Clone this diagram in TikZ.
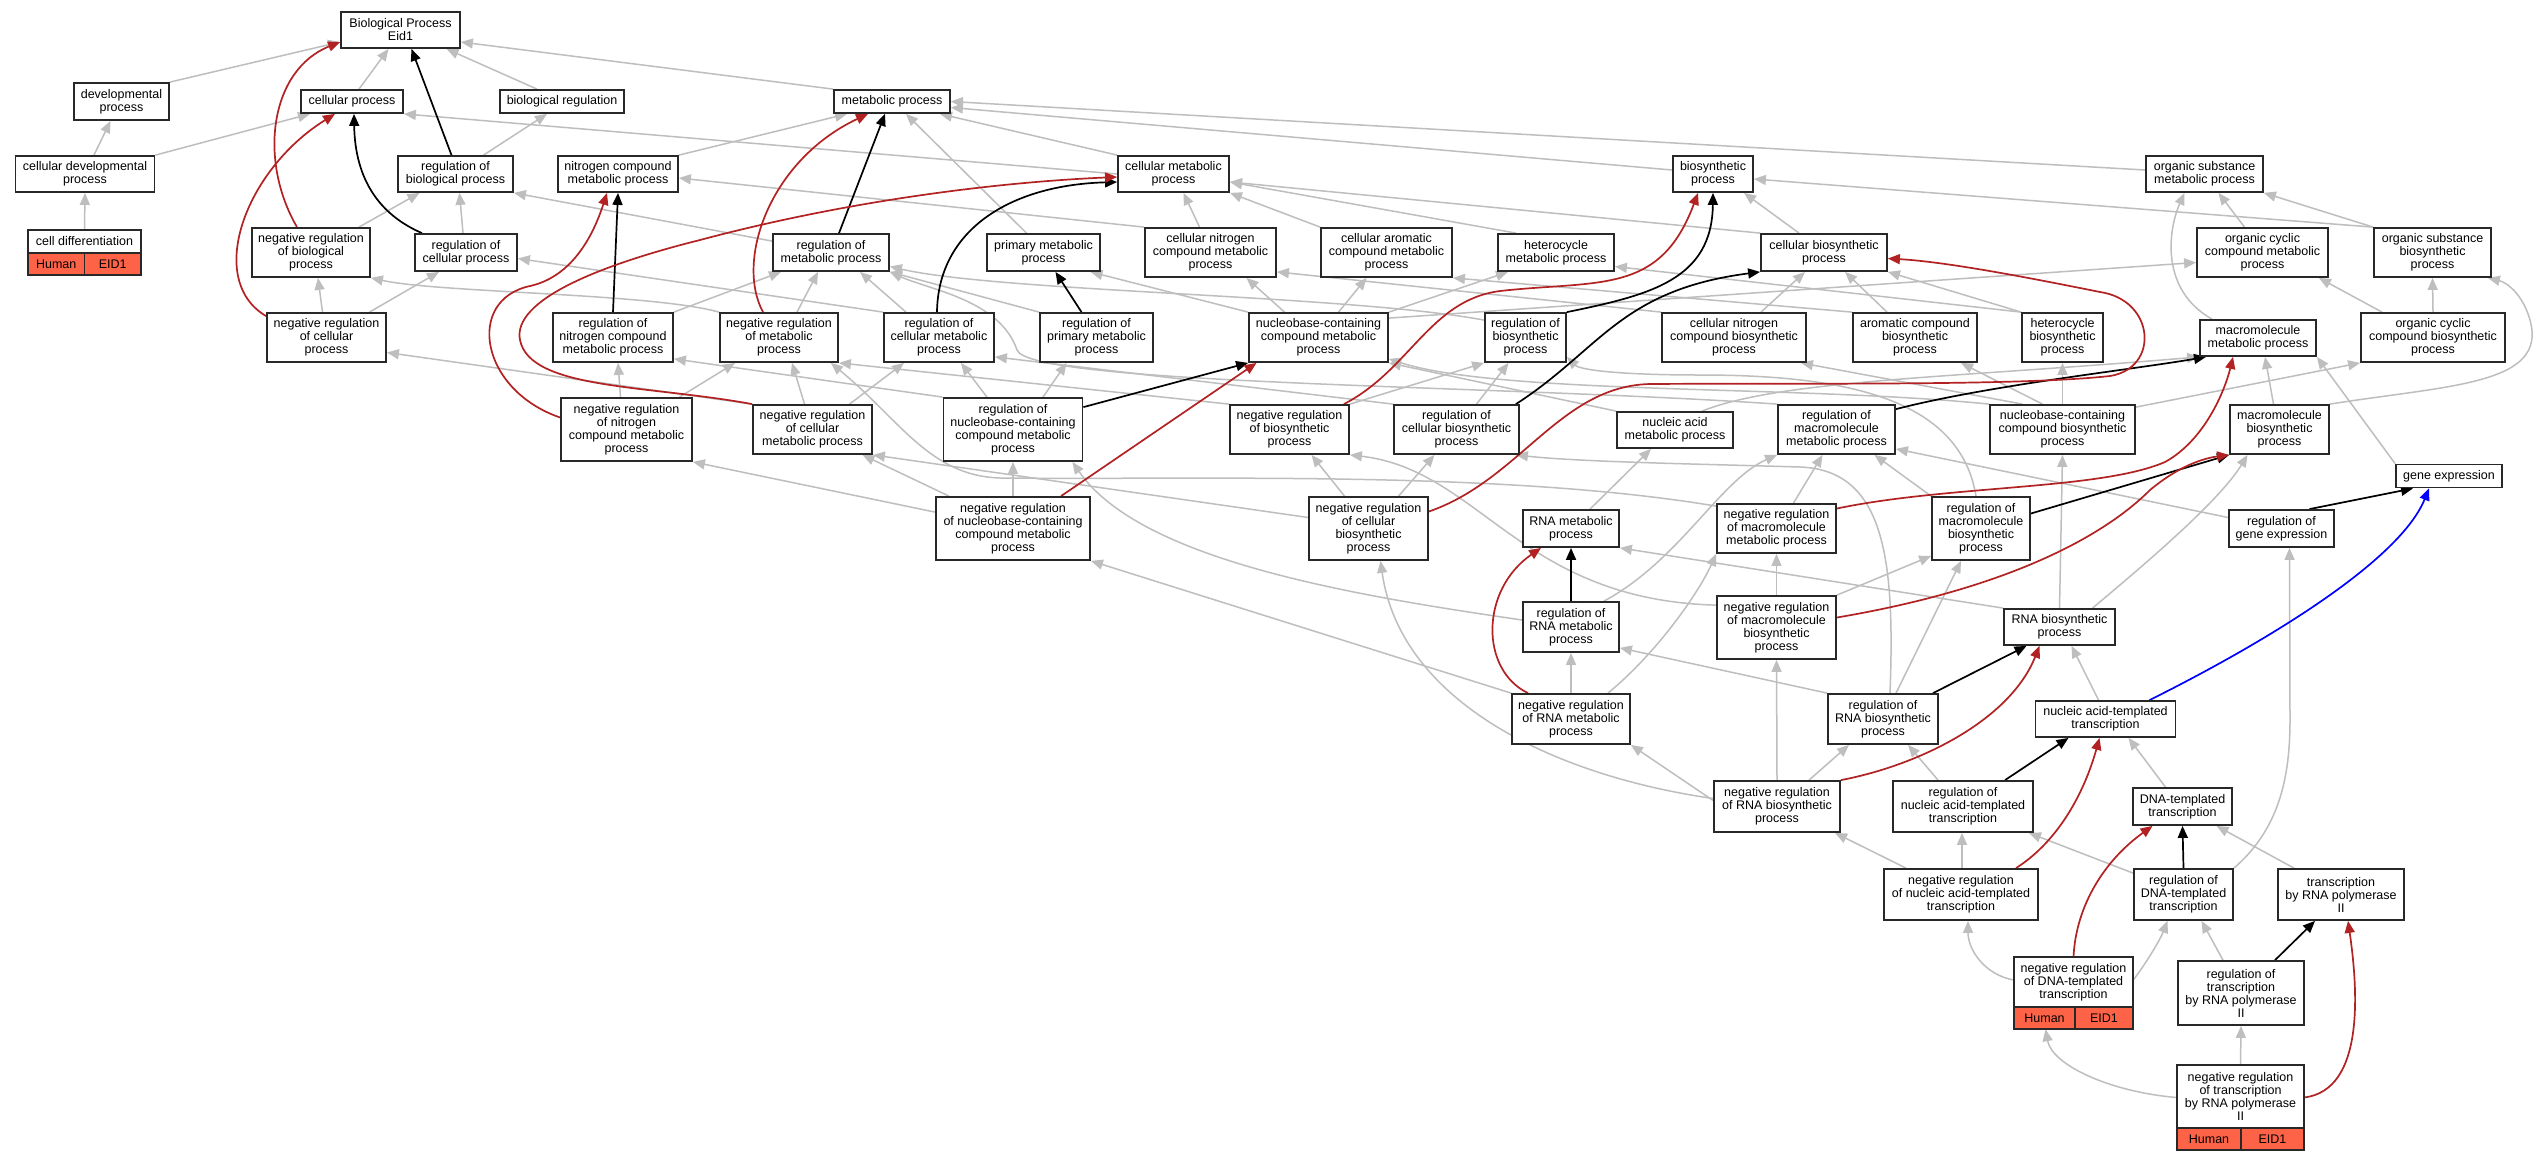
\documentclass[tikz,border=0pt]{standalone}
\usepackage{fontspec}
\setmainfont{Liberation Sans}
\usetikzlibrary{arrows.meta,backgrounds}
\definecolor{isagray}{RGB}{190,190,190}
\definecolor{negred}{RGB}{178,34,34}
\definecolor{tomatofill}{RGB}{255,99,71}
\definecolor{boxline}{RGB}{40,40,40}
\newcommand{\gofont}{\fontsize{12.5}{13}\selectfont}
\newcommand{\gonode}[6]{\node[gbox,minimum width=#4pt,minimum height=#5pt] (#1) at (#2,#3) {#6};}
\tikzset{
 gbox/.style={draw=boxline, line width=1.8pt, fill=white, inner sep=0pt, align=center, font=\gofont, text=black},
 grp/.style={draw=none, inner sep=0pt},
 hbox/.style={draw=boxline, line width=1.8pt, fill=tomatofill, inner sep=0pt, font=\gofont, text=black},
 isa/.style={draw=isagray, line width=1.5pt, -{Triangle[length=12pt,width=10pt]}},
 rega/.style={draw=black, line width=1.7pt, -{Triangle[length=12pt,width=10pt]}},
 nega/.style={draw=negred, line width=1.7pt, -{Triangle[length=12pt,width=10pt]}},
 parta/.style={draw=blue, line width=1.7pt, -{Triangle[length=12pt,width=10pt]}},
}
\begin{document}
\begin{tikzpicture}[x=1pt,y=-1pt]
\useasboundingbox (0,0) rectangle (2546,1152);
% ---------------- nodes ----------------
\gonode{BP}{400.5}{30}{119}{36}{Biological Process\\Eid1}
\gonode{DEV}{121.5}{101.5}{95}{37}{developmental\\process}
\gonode{CP}{352}{101.5}{102}{23}{cellular process}
\gonode{BR}{562}{101.5}{124}{23}{biological regulation}
\gonode{MP}{892}{101.5}{116}{23}{metabolic process}
\gonode{CDP}{85}{174}{139}{36}{cellular developmental\\process}
\gonode{RBP}{455.5}{174}{115}{36}{regulation of\\biological process}
\gonode{NCMP}{618}{174}{120}{36}{nitrogen compound\\metabolic process}
\gonode{CMP}{1173.5}{174}{111}{36}{cellular metabolic\\process}
\gonode{BSP}{1713}{174}{80}{36}{biosynthetic\\process}
\gonode{OSMP}{2204.5}{174}{117}{36}{organic substance\\metabolic process}
% cell differentiation with annotation bar
\node[grp,minimum width=113pt,minimum height=45pt] (CD) at (84.5,252.5) {};
\node[gbox,minimum width=113pt,minimum height=23pt] (CDt) at (84.5,241.5) {cell differentiation};
\node[hbox,minimum width=56.5pt,minimum height=22pt] (CDh) at (56.25,264) {Human};
\node[hbox,minimum width=56.5pt,minimum height=22pt] (CDe) at (112.75,264) {EID1};
\gonode{NRBP}{311}{252.5}{118}{49}{negative regulation\\of biological\\process}
\gonode{RCP}{466}{252.5}{102}{37}{regulation of\\cellular process}
\gonode{RMP}{831}{252.5}{116}{37}{regulation of\\metabolic process}
\gonode{PMP}{1043.5}{252.5}{113}{37}{primary metabolic\\process}
\gonode{CNCMP}{1210.5}{252.5}{131}{49}{cellular nitrogen\\compound metabolic\\process}
\gonode{CACMP}{1386.5}{252.5}{131}{49}{cellular aromatic\\compound metabolic\\process}
\gonode{HMP}{1556}{252.5}{116}{37}{heterocycle\\metabolic process}
\gonode{CBP}{1824}{252.5}{126}{37}{cellular biosynthetic\\process}
\gonode{OCCMP}{2262.5}{252.5}{131}{49}{organic cyclic\\compound metabolic\\process}
\gonode{OSBP}{2432.5}{252.5}{117}{49}{organic substance\\biosynthetic\\process}
\gonode{NRCP}{326.5}{337.5}{119}{49}{negative regulation\\of cellular\\process}
\gonode{RNCMP}{613}{337.5}{120}{49}{regulation of\\nitrogen compound\\metabolic process}
\gonode{NRMP}{779}{337.5}{118}{49}{negative regulation\\of metabolic\\process}
\gonode{RCMP}{939}{337.5}{110}{49}{regulation of\\cellular metabolic\\process}
\gonode{RPMP}{1096.5}{337.5}{113}{49}{regulation of\\primary metabolic\\process}
\gonode{NBCMP}{1318.5}{337.5}{139}{49}{nucleobase-containing\\compound metabolic\\process}
\gonode{RBSP}{1525.5}{337.5}{81}{49}{regulation of\\biosynthetic\\process}
\gonode{CNCBP}{1734}{337.5}{144}{49}{cellular nitrogen\\compound biosynthetic\\process}
\gonode{ACBP}{1915}{337.5}{124}{49}{aromatic compound\\biosynthetic\\process}
\gonode{HBP}{2062.5}{337.5}{81}{49}{heterocycle\\biosynthetic\\process}
\gonode{MMP}{2258}{338}{116}{36}{macromolecule\\metabolic process}
\gonode{OCCBP}{2433}{337.5}{144}{49}{organic cyclic\\compound biosynthetic\\process}
\gonode{NRNCMP}{626.5}{429.5}{131}{63}{negative regulation\\of nitrogen\\compound metabolic\\process}
\gonode{NRCMP}{812.5}{429.5}{119}{49}{negative regulation\\of cellular\\metabolic process}
\gonode{RNBCMP}{1013}{429.5}{139}{63}{regulation of\\nucleobase-containing\\compound metabolic\\process}
\gonode{NRBSP}{1289.5}{429.5}{119}{49}{negative regulation\\of biosynthetic\\process}
\gonode{RCBP}{1456.5}{429.5}{125}{49}{regulation of\\cellular biosynthetic\\process}
\gonode{NAMP}{1675}{430}{116}{36}{nucleic acid\\metabolic process}
\gonode{RMMP}{1836.5}{429.5}{117}{49}{regulation of\\macromolecule\\metabolic process}
\gonode{NBCBP}{2062.5}{429.5}{145}{49}{nucleobase-containing\\compound biosynthetic\\process}
\gonode{MBP}{2279.5}{429.5}{99}{49}{macromolecule\\biosynthetic\\process}
\gonode{GE}{2449}{476}{106}{23}{gene expression}
\gonode{NRNBCMP}{1013}{528.5}{154}{63}{negative regulation\\of nucleobase-containing\\compound metabolic\\process}
\gonode{NRCBP}{1368.5}{528.5}{119}{63}{negative regulation\\of cellular\\biosynthetic\\process}
\gonode{RNAMP}{1571}{528.5}{96}{37}{RNA metabolic\\process}
\gonode{NRMMP}{1776.5}{528.5}{119}{49}{negative regulation\\of macromolecule\\metabolic process}
\gonode{RMBP}{1981}{528.5}{98}{63}{regulation of\\macromolecule\\biosynthetic\\process}
\gonode{RGE}{2281.5}{528.5}{105}{37}{regulation of\\gene expression}
\gonode{RRNAMP}{1571}{627}{96}{50}{regulation of\\RNA metabolic\\process}
\gonode{NRMBP}{1776.5}{627.5}{119}{63}{negative regulation\\of macromolecule\\biosynthetic\\process}
\gonode{RNABP}{2059.5}{627}{111}{36}{RNA biosynthetic\\process}
\gonode{NRRNAMP}{1571}{719}{118}{50}{negative regulation\\of RNA metabolic\\process}
\gonode{RRNABP}{1883}{719}{110}{50}{regulation of\\RNA biosynthetic\\process}
\gonode{NATT}{2105.5}{719}{140}{36}{nucleic acid-templated\\transcription}
\gonode{NRRNABP}{1777}{806.5}{126}{51}{negative regulation\\of RNA biosynthetic\\process}
\gonode{RNATT}{1963}{806.5}{140}{51}{regulation of\\nucleic acid-templated\\transcription}
\gonode{DTT}{2182.5}{806.5}{99}{37}{DNA-templated\\transcription}
\gonode{NRNATT}{1961}{894.5}{154}{51}{negative regulation\\of nucleic acid-templated\\transcription}
\gonode{RDTT}{2183.5}{894.5}{99}{51}{regulation of\\DNA-templated\\transcription}
\gonode{TRP2}{2341}{894.5}{126}{51}{transcription\\by RNA polymerase\\II}
% negative regulation of DNA-templated transcription
\node[grp,minimum width=119pt,minimum height=72pt] (NRDTT) at (2073.5,993) {};
\node[gbox,minimum width=119pt,minimum height=50pt] (NRDTTt) at (2073.5,982) {negative regulation\\of DNA-templated\\transcription};
\node[hbox,minimum width=61pt,minimum height=22pt] (NRDTTh) at (2044.5,1018) {Human};
\node[hbox,minimum width=58pt,minimum height=22pt] (NRDTTe) at (2104,1018) {EID1};
\gonode{RTRP2}{2241}{993}{126}{64}{regulation of\\transcription\\by RNA polymerase\\II}
% negative regulation of transcription by RNA polymerase II
\node[grp,minimum width=127pt,minimum height=85pt] (NRTRP2) at (2240.5,1107.5) {};
\node[gbox,minimum width=127pt,minimum height=63pt] (NRTRP2t) at (2240.5,1096.5) {negative regulation\\of transcription\\by RNA polymerase\\II};
\node[hbox,minimum width=64pt,minimum height=22pt] (NRTRP2h) at (2209,1139) {Human};
\node[hbox,minimum width=63pt,minimum height=22pt] (NRTRP2e) at (2272.5,1139) {EID1};
% ---------------- edges ----------------
\begin{scope}[on background layer]
\fill[white] (0,0) rectangle (2546,1152);
% is_a (gray)
\draw[isa] (DEV.north east) -- ([yshift=-12pt]BP.west);
\draw[isa] ([xshift=7pt]CP.north) -- ([xshift=-12pt]BP.south);
\draw[isa] ([xshift=-25pt]BR.north) -- ([xshift=46pt]BP.south);
\draw[isa] (MP.north west) -- ([yshift=-12pt]BP.east);
\draw[isa] ([xshift=9pt]CDP.north) -- ([xshift=-11pt]DEV.south);
\draw[isa] (CDP.north east) -- ([xshift=-42pt]CP.south);
\draw[isa] (CD.north) -- (CDP.south);
\draw[isa] ([xshift=28pt]RBP.north) -- ([xshift=-15pt]BR.south);
\draw[isa] ([xshift=48pt]NRBP.north) -- ([xshift=-36pt]RBP.south);
\draw[isa] ([xshift=-3pt]RCP.north) -- ([xshift=4pt]RBP.south);
\draw[isa] ([xshift=-4pt]NRCP.north) -- ([xshift=7pt]NRBP.south);
\draw[isa] ([xshift=43pt]NRCP.north) -- ([xshift=-27pt]RCP.south);
\draw[isa] (NCMP.north east) -- ([xshift=-45pt]MP.south);
\draw[isa] (CMP.north west) -- ([xshift=48pt]MP.south);
\draw[isa] (CMP.west) -- (CP.south east);
\draw[isa] ([xshift=-17pt]PMP.north) -- ([xshift=14pt]MP.south);
\draw[isa] ([yshift=4pt]BSP.west) -- ([yshift=-6pt]MP.east);
\draw[isa] ([yshift=4pt]OSMP.west) -- (MP.east);
\draw[isa] (CNCMP.north west) -- ([yshift=-4pt]NCMP.east);
\draw[isa] ([xshift=-11pt]CNCMP.north) -- ([xshift=10pt]CMP.south);
\draw[isa] (CACMP.north west) -- (CMP.south east);
\draw[isa] ([xshift=-40pt]HMP.north) -- ([yshift=-8pt]CMP.east);
\draw[isa] (CBP.north west) -- ([yshift=-8pt]CMP.east);
\draw[isa] ([xshift=-25pt]CBP.north) -- ([xshift=31pt]BSP.south);
\draw[isa] ([xshift=-18pt]OCCMP.north) -- ([xshift=14pt]OSMP.south);
\draw[isa] (OSBP.north west) -- (OSMP.south east);
\draw[isa] (OSBP.north west) -- ([yshift=-5pt]BSP.east);
\draw[isa] ([yshift=-8pt]RMP.north west) -- (RBP.south east);
\draw[isa] ([xshift=18pt]NRMP.north) -- ([xshift=-13pt]RMP.south);
\draw[isa] (NRMP.north west) .. controls (650,293) and (440,293) .. (NRBP.south east);
\draw[isa] (RNCMP.north east) -- ([xshift=-50pt]RMP.south);
\draw[isa] ([xshift=-33pt]RCMP.north) -- ([xshift=29pt]RMP.south);
\draw[isa] (RCMP.north west) -- ([yshift=-6pt]RCP.east);
\draw[isa] (RPMP.north west) -- (RMP.south east);
\draw[isa] ([xshift=-34pt]NBCMP.north) -- ([xshift=36pt]CNCMP.south);
\draw[isa] ([xshift=20pt]NBCMP.north) -- ([xshift=-20pt]CACMP.south);
\draw[isa] (NBCMP.north east) -- ([xshift=-48pt]HMP.south);
\draw[isa] ([yshift=-6pt]NBCMP.north east) -- ([yshift=-10pt]OCCMP.west);
\draw[isa] (NBCMP.north west) -- ([xshift=47pt]PMP.south);
\draw[isa] ([yshift=-8pt]RBSP.north west) .. controls (1350,295) and (1000,292) .. ([yshift=-14pt]RMP.east);
\draw[isa] (CNCBP.north west) -- ([yshift=6pt]CNCMP.south east);
\draw[isa] ([xshift=27pt]CNCBP.north) -- ([xshift=-19pt]CBP.south);
\draw[isa] ([xshift=-28pt]ACBP.north) -- ([xshift=21pt]CBP.south);
\draw[isa] (ACBP.north west) -- (CACMP.south east);
\draw[isa] (HBP.north west) -- ([yshift=-14pt]HMP.east);
\draw[isa] (HBP.north west) -- (CBP.south east);
\draw[isa] ([xshift=-46pt]MMP.north) .. controls (2160,290) and (2168,230) .. ([xshift=-20pt]OSMP.south);
\draw[isa] ([xshift=-51pt]OCCBP.north) -- ([xshift=-10pt]OCCMP.south east);
\draw[isa] (OCCBP.north) -- (OSBP.south);
\draw[isa] ([xshift=-6pt]NRNCMP.north) -- ([xshift=5pt]RNCMP.south);
\draw[isa] ([xshift=53pt]NRNCMP.north) -- ([xshift=-44pt]NRMP.south);
\draw[isa] ([xshift=-8pt]NRCMP.north) -- ([xshift=13pt]NRMP.south);
\draw[isa] ([xshift=37pt]NRCMP.north) -- ([xshift=-35pt]RCMP.south);
\draw[isa] (NRCMP.north west) -- ([yshift=-15pt]NRCP.east);
\draw[isa] (RNBCMP.north west) -- ([yshift=4pt]RNCMP.south east);
\draw[isa] ([xshift=-26pt]RNBCMP.north) -- ([xshift=22pt]RCMP.south);
\draw[isa] ([xshift=30pt]RNBCMP.north) -- ([xshift=-30pt]RPMP.south);
\draw[isa] (NRBSP.north east) -- (RBSP.south west);
\draw[isa] (NRBSP.north west) -- (NRMP.south east);
\draw[isa] ([xshift=20pt]RCBP.north) -- ([xshift=-17pt]RBSP.south);
\draw[isa] (RCBP.north west) -- ([yshift=6pt]RCMP.south east);
\draw[isa] (NAMP.north west) -- (NBCMP.south east);
\draw[isa] ([xshift=27pt]NAMP.north) .. controls (1780,380) and (1950,378) .. (MMP.south west);
\draw[isa] (RMMP.north west) .. controls (1500,385) and (1030,385) .. (1017,350) .. controls (1000,300) and (930,290) .. (RMP.south east);
\draw[isa] (NBCBP.north west) .. controls (1800,385) and (1500,395) .. ([yshift=4pt]NBCMP.south east);
\draw[isa] ([xshift=-40pt]NBCBP.north) -- ([xshift=-6pt]CNCBP.south east);
\draw[isa] ([xshift=-20pt]NBCBP.north) -- ([xshift=46pt]ACBP.south);
\draw[isa] (NBCBP.north) -- (HBP.south);
\draw[isa] ([yshift=-3pt]NBCBP.north east) -- (OCCBP.south west);
\draw[isa] ([xshift=-6pt]MBP.north) -- ([xshift=7pt]MMP.south);
\draw[isa] (MBP.north east) .. controls (2450,385) and (2548,385) .. (2530,320) .. controls (2522,292) and (2505,282) .. ([xshift=-4pt]OSBP.south east);
\draw[isa] (GE.north west) -- (MMP.south east);
\draw[isa] (NRNBCMP.north) -- (RNBCMP.south);
\draw[isa] ([yshift=-16pt]NRNBCMP.north west) -- (NRNCMP.south east);
\draw[isa] ([xshift=-64pt]NRNBCMP.north) -- ([xshift=50pt]NRCMP.south);
\draw[isa] ([xshift=-24pt]NRCBP.north) -- ([xshift=22pt]NRBSP.south);
\draw[isa] ([xshift=30pt]NRCBP.north) -- ([xshift=-22pt]RCBP.south);
\draw[isa] ([yshift=11pt]NRCBP.west) -- (NRCMP.south east);
\draw[isa] ([xshift=19pt]RNAMP.north) -- ([xshift=-24pt]NAMP.south);
\draw[isa] ([xshift=17pt]NRMMP.north) -- ([xshift=-14pt]RMMP.south);
\draw[isa] ([yshift=-3pt]NRMMP.north west) .. controls (1500,470) and (1200,480) .. (1000,478) .. controls (930,476) and (900,420) .. ([xshift=-8pt]NRMP.south east);
\draw[isa] (RMBP.north west) -- ([xshift=38pt]RMMP.south);
\draw[isa] ([xshift=-5pt]RMBP.north) .. controls (1960,400) and (1850,375) .. (1700,375) .. controls (1620,375) and (1580,370) .. ([yshift=6pt]RBSP.south east);
\draw[isa] ([yshift=11pt]RGE.west) -- ([yshift=6pt]RMMP.south east);
\draw[isa] ([yshift=7pt]RRNAMP.west) .. controls (1350,595) and (1140,560) .. ([xshift=-11pt]RNBCMP.south east);
\draw[isa] ([xshift=33pt]RRNAMP.north) .. controls (1680,560) and (1720,480) .. (RMMP.south west);
\draw[isa] (NRMBP.north) -- (NRMMP.south);
\draw[isa] (NRMBP.north east) -- ([yshift=5pt]RMBP.south west);
\draw[isa] ([yshift=-10pt]NRMBP.north west) .. controls (1520,600) and (1480,470) .. (NRBSP.south east);
\draw[isa] (RNABP.north west) -- (RNAMP.south east);
\draw[isa] (RNABP.north) -- (NBCBP.south);
\draw[isa] ([xshift=33pt]RNABP.north) .. controls (2150,560) and (2220,500) .. ([xshift=-32pt]MBP.south);
\draw[isa] (NRRNAMP.north) -- (RRNAMP.south);
\draw[isa] (NRRNAMP.north west) -- (NRNBCMP.south east);
\draw[isa] ([xshift=37pt]NRRNAMP.north) .. controls (1660,650) and (1700,590) .. (NRMMP.south west);
\draw[isa] (RRNABP.north west) -- ([yshift=5pt]RRNAMP.south east);
\draw[isa] ([xshift=13pt]RRNABP.north) -- ([xshift=-20pt]RMBP.south);
\draw[isa] ([xshift=7pt]RRNABP.north) .. controls (1895,560) and (1885,470) .. (1800,467) .. controls (1700,464) and (1580,462) .. ([xshift=-4pt]RCBP.south east);
\draw[isa] ([xshift=-7pt]NATT.north) -- ([xshift=12pt]RNABP.south);
\draw[isa] ([xshift=32pt]NRRNABP.north) -- ([xshift=-34pt]RRNABP.south);
\draw[isa] ([yshift=6pt]NRRNABP.west) -- (NRRNAMP.south east);
\draw[isa] (NRRNABP.north) -- (NRMBP.south);
\draw[isa] ([yshift=8pt]NRRNABP.west) .. controls (1550,775) and (1400,700) .. ([xshift=12pt]NRCBP.south);
\draw[isa] ([xshift=-25pt]RNATT.north) -- ([xshift=25pt]RRNABP.south);
\draw[isa] ([xshift=-17pt]DTT.north) -- ([xshift=23pt]NATT.south);
\draw[isa] ([xshift=-55pt]NRNATT.north) -- ([xshift=58pt]NRRNABP.south);
\draw[isa] ([xshift=1pt]NRNATT.north) -- ([xshift=-1pt]RNATT.south);
\draw[isa] ([yshift=-5pt]RDTT.north west) -- ([xshift=-5pt]RNATT.south east);
\draw[isa] (RDTT.north east) .. controls (2278,830) and (2290,780) .. (2290,720) -- ([xshift=8pt]RGE.south);
\draw[isa] ([xshift=-47pt]TRP2.north) -- ([xshift=34pt]DTT.south);
\draw[isa] ([yshift=13pt]NRDTT.west) .. controls (1985,975) and (1968,950) .. ([xshift=7pt]NRNATT.south);
\draw[isa] ([yshift=13pt]NRDTT.east) .. controls (2145,965) and (2160,940) .. ([xshift=-16pt]RDTT.south);
\draw[isa] ([xshift=-18pt]RTRP2.north) -- ([xshift=18pt]RDTT.south);
\draw[isa] ([yshift=10pt]NRTRP2.west) .. controls (2110,1092) and (2052,1065) .. ([xshift=-28pt]NRDTT.south);
\draw[isa] (NRTRP2.north) -- (RTRP2.south);
% regulates (black)
\draw[rega] ([xshift=-4pt]RBP.north) -- ([xshift=11pt]BP.south);
\draw[rega] ([xshift=-44pt]RCP.north) .. controls (380,215) and (355,180) .. ([xshift=2pt]CP.south);
\draw[rega] ([xshift=8pt]RMP.north) -- ([xshift=-7pt]MP.south);
\draw[rega] (RNCMP.north) -- (NCMP.south);
\draw[rega] ([xshift=-2pt]RCMP.north) .. controls (938,230) and (1010,185) .. ([yshift=-8pt]CMP.west);
\draw[rega] ([xshift=-15pt]RPMP.north) -- ([xshift=12pt]PMP.south);
\draw[rega] ([yshift=-10pt]RNBCMP.north east) -- (NBCMP.south west);
\draw[rega] (RBSP.north east) .. controls (1650,295) and (1712,280) .. (BSP.south);
\draw[rega] ([xshift=-4pt]RCBP.north east) .. controls (1600,350) and (1620,290) .. (CBP.south west);
\draw[rega] ([yshift=-5pt]RMMP.north east) .. controls (1990,385) and (2130,370) .. ([xshift=-52pt]MMP.south);
\draw[rega] ([yshift=15pt]RMBP.east) -- (MBP.south west);
\draw[rega] ([xshift=28pt]RGE.north) -- ([xshift=-36pt]GE.south);
\draw[rega] (RRNAMP.north) -- (RNAMP.south);
\draw[rega] ([xshift=50pt]RRNABP.north) -- ([xshift=-33pt]RNABP.south);
\draw[rega] ([xshift=42pt]RNATT.north) -- ([xshift=-37pt]NATT.south);
\draw[rega] (RDTT.north) -- (DTT.south);
\draw[rega] ([xshift=34pt]RTRP2.north) -- ([xshift=-26pt]TRP2.south);
% negatively regulates (red)
\draw[nega] ([xshift=-14pt]NRBP.north) .. controls (258,160) and (270,70) .. ([yshift=-12pt]BP.west);
\draw[nega] ([yshift=-4pt]NRCP.north west) .. controls (205,280) and (245,170) .. ([xshift=-17pt]CP.south);
\draw[nega] ([xshift=-16pt]NRMP.north) .. controls (735,260) and (770,160) .. ([xshift=-24pt]MP.south);
\draw[nega] ([yshift=12pt]NRNCMP.west) .. controls (480,390) and (465,300) .. (530,286) .. controls (575,276) and (595,230) .. ([xshift=-11pt]NCMP.south);
\draw[nega] (NRCMP.north west) .. controls (650,385) and (530,390) .. (520,340) .. controls (512,300) and (600,265) .. (700,240) .. controls (850,200) and (1000,182) .. ([yshift=-3pt]CMP.west);
\draw[nega] ([xshift=48pt]NRNBCMP.north) -- ([xshift=-62pt]NBCMP.south);
\draw[nega] ([xshift=-6pt]NRBSP.north east) .. controls (1410,370) and (1430,300) .. (1500,291) .. controls (1600,280) and (1660,295) .. ([xshift=-15pt]BSP.south);
\draw[nega] ([yshift=17pt]NRCBP.east) .. controls (1520,480) and (1560,386) .. (1650,384) .. controls (1800,383) and (2020,386) .. (2110,376) .. controls (2160,368) and (2155,300) .. (2100,292) .. controls (2040,280) and (1950,262) .. ([yshift=-6pt]CBP.east);
\draw[nega] ([yshift=20pt]NRMMP.east) .. controls (1950,485) and (2100,490) .. (2165,462) .. controls (2205,440) and (2225,390) .. ([xshift=-25pt]MMP.south);
\draw[nega] ([yshift=10pt]NRMBP.east) .. controls (2000,590) and (2100,540) .. (2150,490) .. controls (2180,465) and (2205,458) .. (MBP.south west);
\draw[nega] ([xshift=-43pt]NRRNAMP.north) .. controls (1480,670) and (1480,590) .. ([xshift=-30pt]RNAMP.south);
\draw[nega] (NRRNABP.north east) .. controls (1920,765) and (2010,720) .. ([xshift=-20pt]RNABP.south);
\draw[nega] ([xshift=55pt]NRNATT.north) .. controls (2060,840) and (2085,790) .. ([xshift=-6pt]NATT.south);
\draw[nega] (NRDTT.north) .. controls (2076,905) and (2105,860) .. ([xshift=-30pt]DTT.south);
\draw[nega] ([yshift=10pt]NRTRP2.east) .. controls (2365,1090) and (2358,990) .. ([xshift=7pt]TRP2.south);
% part of (blue)
\draw[parta] ([xshift=44pt]NATT.north) .. controls (2270,640) and (2400,560) .. ([xshift=-20pt]GE.south);
\end{scope}
\end{tikzpicture}
\end{document}
